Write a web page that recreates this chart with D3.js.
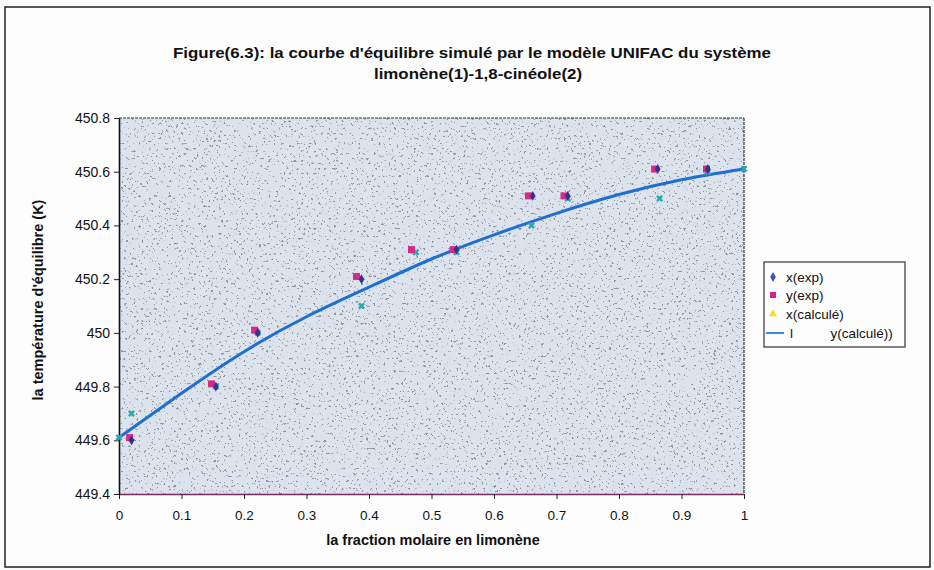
<!DOCTYPE html>
<html>
<head>
<meta charset="utf-8">
<script src="https://cdn.jsdelivr.net/npm/d3@7"></script>
<style>
  body { margin: 0; background: #fbfbfc; }
  text { font-family: "Liberation Sans", Arial, sans-serif; }
</style>
</head>
<body>
<div id="chart"></div>
<script>
// Chart size
const width = 934;
const height = 570;
const margin = { top: 118, right: 190, bottom: 76, left: 119 };

// Data
const xExpX = [0.02, 0.155, 0.222, 0.388, 0.54, 0.662, 0.718, 0.862, 0.942];
const xExpT = [449.6, 449.8, 450.0, 450.2, 450.31, 450.51, 450.51, 450.61, 450.61];
const yExpX = [0.017, 0.148, 0.217, 0.38, 0.468, 0.535, 0.655, 0.712, 0.857, 0.94];
const yExpT = [449.61, 449.81, 450.01, 450.21, 450.31, 450.31, 450.51, 450.51, 450.61, 450.61];
const xCalcX = [0, 0.02, 0.155, 0.222, 0.388, 0.475, 0.54, 0.66, 0.718, 0.865, 0.942, 1.0];
const xCalcT = [449.61, 449.7, 449.8, 450.0, 450.1, 450.3, 450.3, 450.4, 450.5, 450.5, 450.6, 450.61];
const yCalcX = [0, 0.1, 0.2, 0.3, 0.4, 0.5, 0.6, 0.7, 0.8, 0.9, 1.0];
const yCalcT = [449.61, 449.775, 449.93, 450.06, 450.17, 450.275, 450.365, 450.445, 450.515, 450.57, 450.61];
const xTicks = [0, 0.1, 0.2, 0.3, 0.4, 0.5, 0.6, 0.7, 0.8, 0.9, 1];
const yTicks = [449.4, 449.6, 449.8, 450, 450.2, 450.4, 450.6, 450.8];
const legendLabels = ["x(exp)", "y(exp)", "x(calculé)", "l          y(calculé))"];

const innerW = width - margin.left - margin.right;
const innerH = height - margin.top - margin.bottom;

const svg = d3
  .select("#chart")
  .append("svg")
  .attr("width", width)
  .attr("height", height);

// sparse speckles for the scanned look
const defs = svg.append("defs");
const noise = defs.append("filter").attr("id", "speckle").attr("x", 0).attr("y", 0).attr("width", 1).attr("height", 1);
noise.append("feTurbulence").attr("type", "fractalNoise").attr("baseFrequency", 0.4).attr("numOctaves", 2).attr("seed", 7).attr("result", "n");
noise.append("feColorMatrix").attr("in", "n").attr("type", "matrix")
  .attr("values", "0 0 0 0 0.28  0 0 0 0 0.31  0 0 0 0 0.36  -14 0 0 0 5.0")
  .attr("result", "dots");
noise.append("feComposite").attr("in", "dots").attr("in2", "SourceGraphic").attr("operator", "atop");

// outer frame
svg.append("rect")
  .attr("x", 5).attr("y", 7)
  .attr("width", width - 9).attr("height", height - 10)
  .attr("fill", "#fdfdfd")
  .attr("stroke", "#222").attr("stroke-width", 1.5);

// Title
const title = svg.append("text")
  .attr("text-anchor", "middle")
  .attr("font-weight", "bold")
  .attr("font-size", 15)
  .attr("fill", "#111");
title.append("tspan").attr("x", 472).attr("y", 58)
  .attr("textLength", 598).attr("lengthAdjust", "spacingAndGlyphs")
  .text("Figure(6.3): la courbe d'équilibre simulé par le modèle UNIFAC du système");
title.append("tspan").attr("x", 478).attr("y", 79)
  .attr("textLength", 208).attr("lengthAdjust", "spacingAndGlyphs")
  .text("limonène(1)-1,8-cinéole(2)");

const g = svg.append("g").attr("transform", `translate(${margin.left}, ${margin.top})`);

// Scales
const xScale = d3.scaleLinear().domain([0, 1]).range([0, innerW]);
const yScale = d3.scaleLinear().domain([449.4, 450.8]).range([innerH, 0]);

// Plot area background
g.append("rect")
  .attr("width", innerW).attr("height", innerH)
  .attr("fill", "#dce3ec")
  .attr("filter", "url(#speckle)");

// top and right borders of plot area
g.append("line").attr("x1", 0).attr("x2", innerW).attr("y1", 0).attr("y2", 0)
  .attr("stroke", "#333").attr("stroke-width", 1.2).attr("stroke-dasharray", "3,1");
g.append("line").attr("x1", innerW).attr("x2", innerW).attr("y1", 0).attr("y2", innerH)
  .attr("stroke", "#333").attr("stroke-width", 1.2).attr("stroke-dasharray", "3,1");

// Axes
const xAxis = g.append("g")
  .attr("transform", `translate(0, ${innerH})`)
  .call(d3.axisBottom(xScale).tickValues(xTicks).tickSize(5).tickSizeOuter(0).tickFormat(d3.format("")));
xAxis.select(".domain").attr("stroke", "#7a2a60").attr("stroke-width", 1.6);
xAxis.selectAll(".tick line").attr("stroke", "#222");
xAxis.selectAll("text").attr("font-size", 13.5).attr("fill", "#111").attr("dy", "1.35em")
  .attr("font-family", "Liberation Sans, Arial, sans-serif");

const yAxis = g.append("g")
  .call(d3.axisLeft(yScale).tickValues(yTicks).tickSize(5).tickSizeOuter(0).tickFormat(d3.format("")));
yAxis.select(".domain").attr("stroke", "#111").attr("stroke-width", 1.6);
yAxis.selectAll(".tick line").attr("stroke", "#222");
yAxis.selectAll("text").attr("font-size", 14).attr("fill", "#111").attr("x", -9)
  .attr("font-family", "Liberation Sans, Arial, sans-serif");

// Axis titles
svg.append("text")
  .attr("x", 433).attr("y", 545)
  .attr("text-anchor", "middle")
  .attr("font-weight", "bold").attr("font-size", 14.5).attr("fill", "#111")
  .text("la fraction molaire en limonène");
svg.append("text")
  .attr("transform", "translate(43, 300) rotate(-90)")
  .attr("text-anchor", "middle")
  .attr("font-weight", "bold").attr("font-size", 14.5).attr("fill", "#111")
  .text("la température d'équilibre (K)");

// y(calculé) curve
const calcData = yCalcX.map((x, i) => ({ x, t: yCalcT[i] }));
const line = d3.line()
  .x((d) => xScale(d.x))
  .y((d) => yScale(d.t))
  .curve(d3.curveNatural);
g.append("path")
  .datum(calcData)
  .attr("d", line)
  .attr("fill", "none")
  .attr("stroke", "#1f6fd0")
  .attr("stroke-width", 3);

// x(calculé) crosses
const cross = d3.symbol().type(d3.symbolCross).size(30);
g.selectAll(".xcalc")
  .data(xCalcX.map((x, i) => ({ x, t: xCalcT[i] })))
  .join("path")
  .attr("class", "xcalc")
  .attr("d", cross)
  .attr("transform", (d) => `translate(${xScale(d.x)}, ${yScale(d.t)}) rotate(45)`)
  .attr("fill", "#2aa8b0");

// y(exp) squares
g.selectAll(".yexp")
  .data(yExpX.map((x, i) => ({ x, t: yExpT[i] })))
  .join("rect")
  .attr("class", "yexp")
  .attr("x", (d) => xScale(d.x) - 3.5)
  .attr("y", (d) => yScale(d.t) - 3.5)
  .attr("width", 7).attr("height", 7)
  .attr("fill", "#d42c86");

// x(exp) diamonds
const diamond = d3.symbol().type(d3.symbolDiamond).size(28);
g.selectAll(".xexp")
  .data(xExpX.map((x, i) => ({ x, t: xExpT[i] })))
  .join("path")
  .attr("class", "xexp")
  .attr("d", diamond)
  .attr("transform", (d) => `translate(${xScale(d.x)}, ${yScale(d.t)})`)
  .attr("fill", "#3a2f8c");

// Legend
const legend = svg.append("g").attr("transform", "translate(764, 262)");
legend.append("rect")
  .attr("width", 141).attr("height", 85)
  .attr("fill", "#fdfdfd").attr("stroke", "#333").attr("stroke-width", 1.2);

const rowY = [15, 33, 52, 71];
legendLabels.forEach((label, i) => {
  const row = legend.append("g").attr("transform", `translate(0, ${rowY[i]})`);
  if (i === 0) {
    row.append("path").attr("d", diamond).attr("transform", "translate(9, 0)").attr("fill", "#3a50c0");
  } else if (i === 1) {
    row.append("rect").attr("x", 6).attr("y", -3).attr("width", 6).attr("height", 6).attr("fill", "#e0208a");
  } else if (i === 2) {
    row.append("path").attr("d", d3.symbol().type(d3.symbolTriangle).size(28))
      .attr("transform", "translate(9, 0)").attr("fill", "#f2e020");
  } else {
    row.append("line").attr("x1", 2).attr("x2", 20).attr("y1", 0).attr("y2", 0)
      .attr("stroke", "#3a8ae0").attr("stroke-width", 2);
  }
  row.append("text")
    .attr("x", i === 3 ? 26 : 22).attr("y", 5)
    .attr("font-size", 13.5).attr("fill", "#111")
    .style("white-space", "pre")
    .text(label);
});
</script>
</body>
</html>
